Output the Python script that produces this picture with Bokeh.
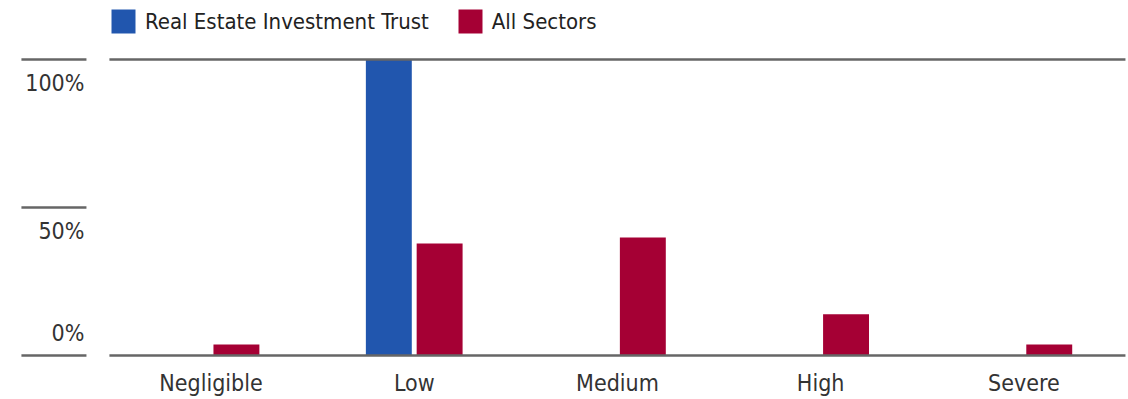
from bokeh.plotting import figure
from bokeh.models import Range1d, FixedTicker, Legend, LegendItem, ColumnDataSource
from bokeh.core.properties import value
from bokeh.embed import file_html
from bokeh.resources import INLINE

# Share of companies in each ESG risk category (%)
categories = ["Negligible", "Low", "Medium", "High", "Severe"]
reit = [0, 100, 0, 0, 0]
all_sectors = [3.7, 37.8, 39.9, 13.9, 3.7]

y_ticks = [0, 50, 100]
y_tick_labels = ["0%", "50%", "100%"]

FONT = "DejaVu Sans Condensed"
FONT_SIZE = "23px"
TEXT = "#333333"
RULE = "#666666"
BLUE = "#2156AE"
RED = "#A50034"

n = len(categories)
centers = [i + 0.5 for i in range(n)]

p = figure(
    width=1128, height=399,
    x_range=Range1d(-0.536, 5.015),
    y_range=Range1d(-0.676, 119.93),
    min_border_left=0, min_border_right=0, min_border_top=0, min_border_bottom=42,
    output_backend="svg", toolbar_location=None,
    outline_line_color=None, background_fill_color="white",
)
p.yaxis.visible = False
p.grid.visible = False

# bars, dodged around each category centre
src = ColumnDataSource(dict(
    xb=[c - 0.125 for c in centers], xr=[c + 0.125 for c in centers],
    reit=reit, all=all_sectors,
))
r_blue = p.vbar(x="xb", top="reit", bottom=0, width=0.226, source=src,
                fill_color=BLUE, line_color=None)
r_red = p.vbar(x="xr", top="all", bottom=0, width=0.226, source=src,
               fill_color=RED, line_color=None)

# top rule and baseline across the plot
p.segment(x0=[0, 0], y0=[100, 0], x1=[n, n], y1=[100, 0],
          line_color=RULE, line_width=2.5)
# short rules next to the percentage labels
p.segment(x0=[-0.433] * 3, y0=y_ticks, x1=[-0.113] * 3, y1=y_ticks,
          line_color=RULE, line_width=2.5)

# percentage labels: below the rule, except 0% which sits above the baseline
lab = ColumnDataSource(dict(
    x=[-0.123] * 3, y=y_ticks, t=y_tick_labels,
    dy=[-22 if v == 0 else 24 for v in y_ticks],
))
p.text(x="x", y="y", text="t", y_offset="dy", source=lab,
       text_font=value(FONT), text_font_size=value(FONT_SIZE), text_color=TEXT,
       text_align="right", text_baseline="alphabetic")

# category axis
ax = p.xaxis[0]
ax.ticker = FixedTicker(ticks=centers)
ax.major_label_overrides = {c: name for c, name in zip(centers, categories)}
ax.axis_line_color = None
ax.major_tick_line_color = None
ax.minor_tick_line_color = None
ax.major_tick_out = 0
ax.major_tick_in = 0
ax.major_label_standoff = 12
ax.major_label_text_font = FONT
ax.major_label_text_font_size = FONT_SIZE
ax.major_label_text_color = TEXT

legend = Legend(
    items=[LegendItem(label="Real Estate Investment Trust", renderers=[r_blue]),
           LegendItem(label="All Sectors", renderers=[r_red])],
    orientation="horizontal", location=(108, 321),
    glyph_width=30, glyph_height=30, label_height=30,
    label_standoff=7, spacing=26, padding=0, margin=0,
    border_line_color=None, background_fill_alpha=0,
    label_text_font=FONT, label_text_font_size="22px",
    label_text_color="#222222", label_text_baseline="middle",
)
p.add_layout(legend)

open("out.html", "w").write(file_html(p, INLINE))
